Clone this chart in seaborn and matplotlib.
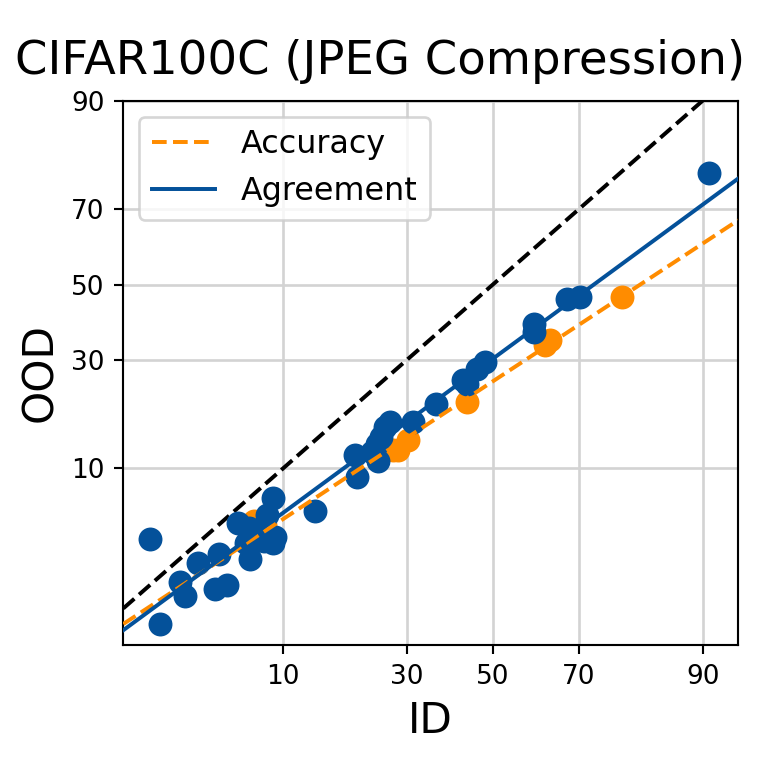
"""Accuracy / agreement on the line, CIFAR100C (JPEG Compression), probit axes."""

from statistics import NormalDist

import matplotlib

matplotlib.use("Agg")
import matplotlib.pyplot as plt
import numpy as np
import seaborn as sns

# Agreement points (ID %, OOD %)
agree_id = [1.8, 2.1, 2.8, 3.0, 3.6, 4.5, 5.2, 4.7, 6.0, 6.8, 6.9, 6.6, 7.5, 8.4, 9.0, 8.1,
            9.2, 9.0, 13.9, 20.0, 20.3, 24.2, 23.9, 25.5, 26.5, 31.4, 36.4, 43.7, 46.1, 48.1,
            59.9, 59.9, 67.4, 70.3, 90.7, 23.0, 24.7, 42.8]
agree_ood = [3.8, 0.9, 1.9, 1.5, 2.6, 1.7, 1.8, 3.0, 4.8, 4.5, 2.8, 3.6, 4.1, 5.4, 6.8, 3.7,
             3.9, 3.6, 5.7, 11.7, 9.0, 11.0, 13.4, 16.1, 16.9, 16.9, 20.3, 24.5, 27.9, 29.5,
             39.3, 37.1, 46.1, 46.6, 78.2, 12.1, 14.4, 25.2]

# Accuracy points (ID %, OOD %)
acc_id = [8.2, 7.2, 27.1, 28.2, 30.3, 43.7, 62.5, 63.7, 78.5]
acc_ood = [4.7, 5.0, 12.4, 12.4, 13.9, 20.7, 33.6, 34.9, 46.6]

# Fitted lines, read at both ends of the x range
fit_x = [1.2, 93.3]
acc_fit_y = [0.9, 67.3]
agree_fit_y = [0.8, 77.0]

ticks = [10, 30, 50, 70, 90]

ORANGE = "#ff8c00"
BLUE = "#04519a"

_norm = NormalDist()
_inv_cdf = np.vectorize(_norm.inv_cdf, otypes=[float])
_cdf = np.vectorize(_norm.cdf, otypes=[float])


def probit(v):
    v = np.clip(np.asarray(v, dtype=float) / 100.0, 1e-6, 1 - 1e-6)
    return _inv_cdf(v)


def inv_probit(v):
    return _cdf(np.asarray(v, dtype=float)) * 100.0


fig = plt.figure(figsize=(4, 4), dpi=190.25)
ax = fig.add_axes([0.162, 0.1524, 0.808, 0.7153])
ax.set_xscale("function", functions=(probit, inv_probit))
ax.set_yscale("function", functions=(probit, inv_probit))

ax.grid(True, color="#d3d3d3", linewidth=1.0, zorder=0)
ax.set_axisbelow(True)

sns.lineplot(x=fit_x, y=fit_x, ax=ax, color="black", linestyle="--", linewidth=1.5)
sns.scatterplot(x=acc_id, y=acc_ood, ax=ax, color=ORANGE, s=82, linewidth=0, zorder=3)
sns.scatterplot(x=agree_id, y=agree_ood, ax=ax, color=BLUE, s=82, linewidth=0, zorder=4)
sns.lineplot(x=fit_x, y=acc_fit_y, ax=ax, color=ORANGE, linestyle="--", linewidth=1.5,
             label="Accuracy", zorder=5)
sns.lineplot(x=fit_x, y=agree_fit_y, ax=ax, color=BLUE, linewidth=1.5,
             label="Agreement", zorder=5)

ax.set_xlim(1.2, 93.3)
ax.set_ylim(0.6, 90)
ax.set_xticks(ticks)
ax.set_xticklabels([str(t) for t in ticks])
ax.set_yticks(ticks)
ax.set_yticklabels([str(t) for t in ticks])
ax.minorticks_off()
ax.tick_params(labelsize=10)

ax.set_xlabel("ID", fontsize=16)
ax.set_ylabel("OOD", fontsize=16)
fig.text(0.5, 0.903, "CIFAR100C (JPEG Compression)", fontsize=17.6,
         ha="center", va="baseline")
ax.legend(loc="upper left", fontsize=12)

fig.savefig("out.png", dpi=190.25)
